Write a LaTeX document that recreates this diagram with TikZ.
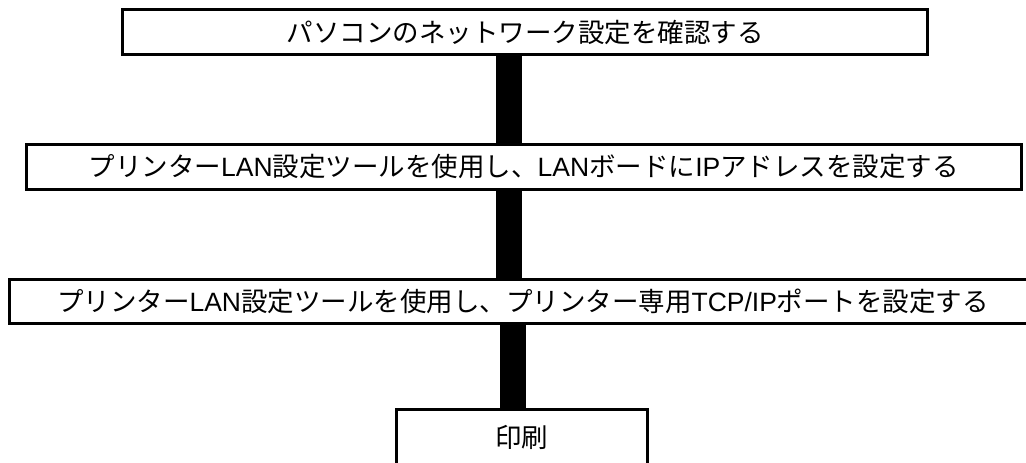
\documentclass[tikz,border=0pt]{standalone}
\usepackage{fontspec}
\setmainfont{Noto Sans CJK JP}
\newfontfamily\latf{Liberation Sans}
\newcommand{\lt}[1]{{\latf #1}}
\begin{document}
\begin{tikzpicture}[x=1pt,y=1pt,
  box/.style={draw=black, line width=3pt, fill=white, inner sep=0pt,
    font=\fontsize{26.5}{30}\selectfont, text=black, anchor=center},
  bar/.style={draw=black, line width=26pt}]
\clip (0,0) rectangle (1026,-463);
\fill[white] (0,0) rectangle (1026,-463);
\node[box, minimum width=805pt, minimum height=45pt] (b1) at (525,-32) {パソコンのネットワーク設定を確認する};
\node[box, minimum width=994.5pt, minimum height=45.5pt] (b2) at (523.75,-166.75) {プリンター\lt{LAN}設定ツールを使用し、\lt{LAN}ボードに\lt{IP}アドレスを設定する};
\node[box, minimum width=1028pt, minimum height=44pt] (b3) at (523,-301) {プリンター\lt{LAN}設定ツールを使用し、プリンター専用\lt{TCP/IP}ポートを設定する};
\node[box, minimum width=251.5pt, minimum height=56pt] (b4) at (521.75,-437) {印刷};
\coordinate (x1) at (509,0);
\coordinate (x3) at (512.7,0);
\draw[bar] (b1.south -| x1) -- (b2.north -| x1);
\draw[bar] (b2.south -| x1) -- (b3.north -| x1);
\draw[bar] (b3.south -| x3) -- (b4.north -| x3);
\end{tikzpicture}
\end{document}
